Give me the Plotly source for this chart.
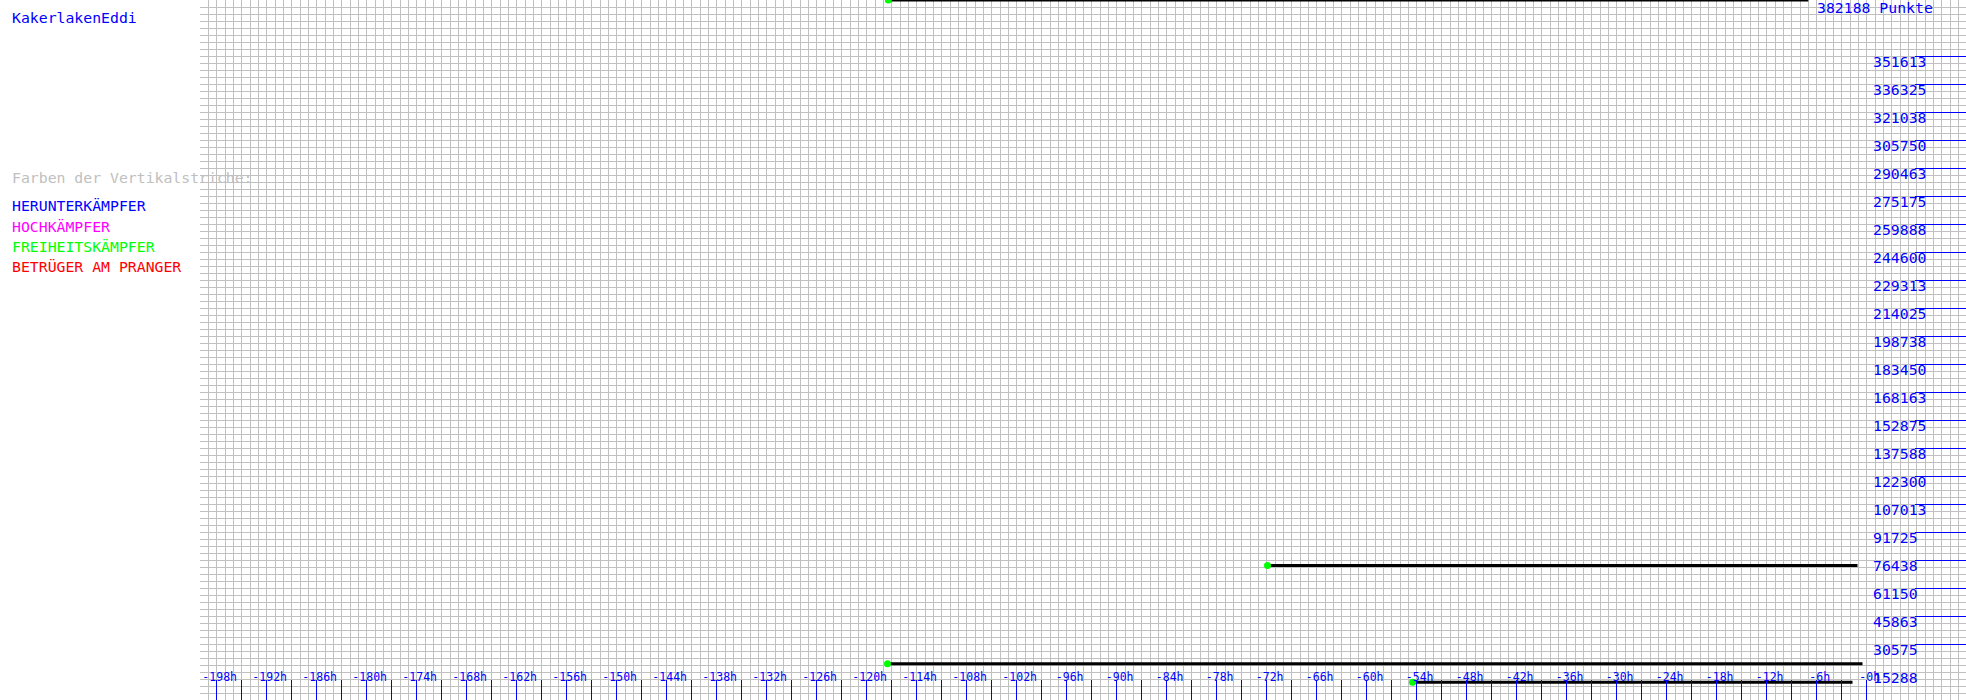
import plotly.graph_objects as go

# ---------------- data ----------------
player_name = "KakerlakenEddi"
max_points = 382188
legend_title = "Farben der Vertikalstriche:"
legend_items = ["HERUNTERKÄMPFER", "HOCHKÄMPFER", "FREIHEITSKÄMPFER", "BETRÜGER AM PRANGER"]
legend_colors = ["#0000ff", "#ff00ff", "#00ff00", "#ff0000"]

# horizontal score segments (hours relative to now, points)
seg_start_h = [-117.4, -71.9, -117.5, -54.5]
seg_end_h = [-7.0, -1.1, -0.5, -1.7]
seg_points = [382188, 73490, 19800, 9720]

# axis ticks
x_tick_hours = list(range(-198, 1, 3))
x_label_hours = list(range(-198, 1, 6))
y_tick_labels = ["15288", "30575", "45863", "61150", "76438", "91725", "107013",
                 "122300", "137588", "152875", "168163", "183450", "198738",
                 "214025", "229313", "244600", "259888", "275175", "290463",
                 "305750", "321038", "336325", "351613"]
y_tick_values = [int(v) for v in y_tick_labels]

# ---------------- layout constants ----------------
W, H = 1966, 700
GRID_LEFT = 200
PX_PER_H = 25 / 3.0
X0 = -200
X1 = X0 + (W - GRID_LEFT) / PX_PER_H
Y_STEP = max_points / 25.0
MONO = "DejaVu Sans Mono"
BLUE = "#0000ff"
GRID = "#c0c0c0"

fig = go.Figure()

for s, e, p in zip(seg_start_h, seg_end_h, seg_points):
    fig.add_trace(go.Scatter(x=[s, e], y=[p, p], mode="lines",
                             line=dict(color="#000000", width=3),
                             showlegend=False, hoverinfo="skip"))
fig.add_trace(go.Scatter(x=seg_start_h, y=seg_points, mode="markers",
                         marker=dict(color="#00ff00", size=7, line=dict(width=0)),
                         showlegend=False, hoverinfo="skip"))

x_tick_text = [("-%dh" % (-h)) if h in x_label_hours else "" for h in x_tick_hours]

fig.update_layout(
    width=W, height=H,
    margin=dict(l=0, r=0, t=0, b=0),
    paper_bgcolor="#ffffff", plot_bgcolor="#ffffff",
    showlegend=False,
    xaxis=dict(domain=[GRID_LEFT / W, 1], range=[X0, X1], tickmode="linear",
               tick0=0, dtick=1, showgrid=True, gridcolor=GRID, gridwidth=1,
               zeroline=False, showline=False, ticks="", showticklabels=False),
    xaxis2=dict(overlaying="x", matches="x", side="bottom", anchor="y",
                tickmode="array", tickvals=x_tick_hours, ticktext=x_tick_text,
                ticks="inside", ticklen=20, tickwidth=1, tickcolor=BLUE,
                ticklabelposition="inside", ticklabelshift=3, ticklabelstandoff=-4,
                tickfont=dict(family=MONO, size=11.5, color=BLUE),
                showgrid=False, zeroline=False, showline=False),
    yaxis=dict(range=[0, max_points], tickmode="linear", tick0=0, dtick=Y_STEP / 4,
               showgrid=True, gridcolor=GRID, gridwidth=1, zeroline=False,
               showline=False, ticks="", showticklabels=False, side="right"),
    yaxis2=dict(overlaying="y", matches="y", side="right", anchor="x",
                tickmode="array", tickvals=y_tick_values, ticks="inside",
                ticklen=51, tickwidth=1, tickcolor=BLUE, showticklabels=False,
                showgrid=False, zeroline=False, showline=False),
    yaxis3=dict(overlaying="y", matches="y", side="right", anchor="free",
                position=1872 / W, tickmode="array", tickvals=y_tick_values,
                ticktext=y_tick_labels, ticks="", ticklabelshift=6,
                tickfont=dict(family=MONO, size=14.8, color=BLUE),
                showgrid=False, zeroline=False, showline=False),
)

# dummy traces to activate the overlay axes
fig.add_trace(go.Scatter(x=[None], y=[None], xaxis="x2", yaxis="y2", showlegend=False))
fig.add_trace(go.Scatter(x=[None], y=[None], xaxis="x", yaxis="y3", showlegend=False))

def ann(text, x_px, y_px, color, anchor="left"):
    fig.add_annotation(text=text, xref="paper", yref="paper",
                       x=x_px / W, y=1 - y_px / H, xanchor=anchor, yanchor="middle",
                       showarrow=False, font=dict(family=MONO, size=14.8, color=color))

ann(player_name, 10, 18, BLUE)
ann(legend_title, 10, 178, "#c0c0c0")
for i, (t, c) in enumerate(zip(legend_items, legend_colors)):
    ann(t, 10, 206 + 20 * i, c)
ann("%d Punkte" % max_points, 1815, 7.5, BLUE)

fig.write_html("out.html")
